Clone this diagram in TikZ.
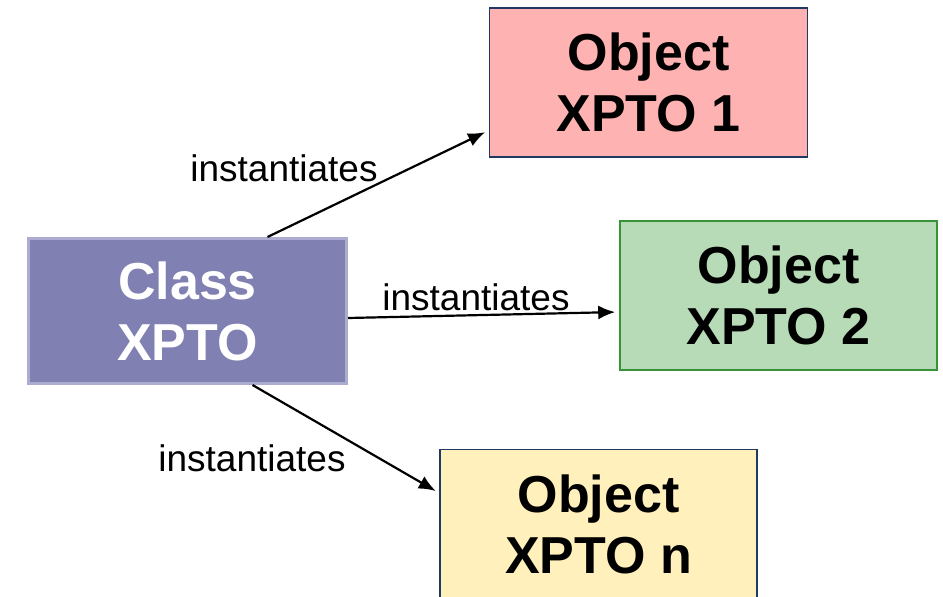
\documentclass[tikz,border=0pt]{standalone}
\usepackage{fontspec}
\setmainfont{Liberation Sans}
\usetikzlibrary{arrows.meta}
\definecolor{classfill}{RGB}{128,128,178}
\definecolor{classedge}{RGB}{172,172,208}
\definecolor{navyedge}{RGB}{31,56,100}
\definecolor{pinkfill}{RGB}{255,178,178}
\definecolor{greenfill}{RGB}{182,219,182}
\definecolor{greenedge}{RGB}{56,146,56}
\definecolor{yellowfill}{RGB}{255,240,188}
\tikzset{
  objbox/.style={rectangle, draw=navyedge, line width=1.6pt, minimum width=318pt,
    minimum height=149pt, align=center, font=\fontsize{52}{61}\selectfont\bfseries},
  inst/.style={-{Latex[length=17pt,width=14pt]}, line width=2.2pt, shorten >=4pt},
  instlabel/.style={font=\fontsize{37}{44}\selectfont}
}
\begin{document}
\begin{tikzpicture}[x=1pt,y=-1pt]
                \useasboundingbox (0,0) rectangle (943,597);
                \node[objbox, fill=classfill, draw=classedge, line width=3pt, text=white,
                  minimum width=318pt, minimum height=145pt] (cls) at (187.5,311) {Class\\XPTO};
                \node[objbox, fill=pinkfill] (obj1) at (648.5,82.5) {Object\\XPTO 1};
                \node[objbox, fill=greenfill, draw=greenedge, minimum width=317pt] (obj2) at (778.5,295.5) {Object\\XPTO 2};
                \node[objbox, fill=yellowfill, minimum width=317pt] (objn) at (598.5,524) {Object\\XPTO n};
                \draw[inst] ([xshift=80pt]cls.north) -- ([yshift=-48pt]obj1.west);
                \draw[inst] ([yshift=-7pt]cls.east) -- ([yshift=-16.5pt]obj2.west);
                \draw[inst] ([xshift=65pt]cls.south) -- ([yshift=31pt]objn.west);
                \node[instlabel] (lab1) at (284,168) {instantiates};
                \node[instlabel] (lab2) at (476,297) {instantiates};
                \node[instlabel] (lab3) at (252,458) {instantiates};
            \end{tikzpicture}
\end{document}
